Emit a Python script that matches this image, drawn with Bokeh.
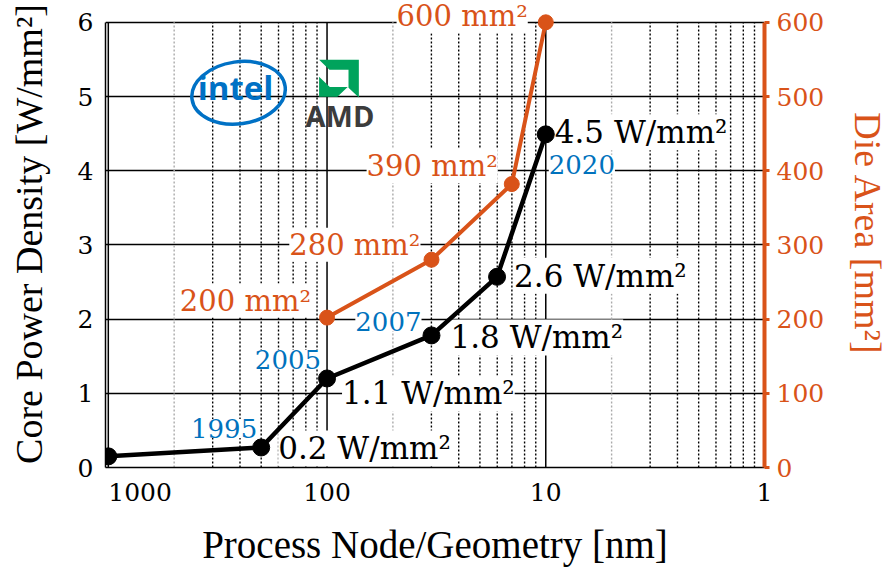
import math
from bokeh.plotting import figure
from bokeh.models import Range1d, LinearAxis, FixedTicker, ColumnDataSource
from bokeh.core.properties import value
from bokeh.embed import file_html
from bokeh.resources import INLINE

# ---------------- data ----------------
node_nm = [1000, 200, 100, 33.3, 16.7, 10]
power_density = [0.15, 0.27, 1.2, 1.78, 2.57, 4.49]
density_labels = ["", "0.2 W/mm²", "1.1 W/mm²", "1.8 W/mm²", "2.6 W/mm²", "4.5 W/mm²"]
year_point = [1, 2, 3, 5]
year_labels = ["1995", "2005", "2007", "2020"]
area_node_nm = [100, 33.3, 14.3, 10]
die_area = [202, 280, 382, 600]
area_labels = ["200 mm²", "280 mm²", "390 mm²", "600 mm²"]
x_ticks = [1000, 100, 10, 1]
x_tick_labels = ["1000", "100", "10", "1"]
left_ticks = [0, 1, 2, 3, 4, 5, 6]
right_ticks = [0, 100, 200, 300, 400, 500, 600]

# ---------------- style ----------------
BLACK = "#000000"
ORANGE = "#D95319"
BLUE = "#0072BD"
INTEL_BLUE = "#0071C5"
AMD_GREEN = "#00A35C"
AMD_GRAY = "#3C3C3C"
SERIF = "DejaVu Serif"
TITLE_FONT = "Liberation Serif"
NBSP = "\u00a0"

X_START, X_END = 1030, 1
Y_TOP = 6.294
FRAME_W, FRAME_H = 663, 471
PX_PER_DECADE = FRAME_W / math.log10(X_START / X_END)
PX_PER_UNIT = FRAME_H / Y_TOP

p = figure(width=892, height=568, x_axis_type="log",
           x_range=Range1d(X_START, X_END), y_range=Range1d(0, Y_TOP),
           output_backend="svg", toolbar_location=None,
           min_border_left=105, min_border_right=124,
           min_border_top=0, min_border_bottom=97)
p.outline_line_color = None
p.background_fill_color = "white"
p.border_fill_color = "white"
p.xgrid.visible = False

# y grid
p.ygrid.ticker = FixedTicker(ticks=left_ticks)
p.ygrid.grid_line_color = BLACK
p.ygrid.grid_line_width = 1.5

# x axis ("1000" label sits to the right of its tick, as in the original)
xa = p.xaxis[0]
xa.ticker = FixedTicker(ticks=x_ticks)
xa.major_label_overrides = {
    t: (NBSP * 8 + lab if t == 1000 else lab) for t, lab in zip(x_ticks, x_tick_labels)}
xa.major_label_text_font = SERIF
xa.major_label_text_font_size = "25px"
xa.major_label_text_color = BLACK
xa.major_label_standoff = 10
xa.major_tick_out = 0
xa.major_tick_in = 0
xa.minor_tick_line_color = None
xa.axis_line_color = BLACK
xa.axis_line_width = 1.5
xa.axis_label = "Process Node/Geometry [nm]"
xa.axis_label_text_font = TITLE_FONT
xa.axis_label_text_font_size = "39px"
xa.axis_label_text_font_style = "normal"
xa.axis_label_text_color = BLACK
xa.axis_label_standoff = 13

# left axis
ya = p.yaxis[0]
ya.ticker = FixedTicker(ticks=left_ticks)
ya.bounds = (0, 6)
ya.major_label_text_font = SERIF
ya.major_label_text_font_size = "25px"
ya.major_label_text_color = BLACK
ya.major_label_standoff = 12
ya.major_tick_out = 0
ya.major_tick_in = 0
ya.minor_tick_line_color = None
ya.axis_line_color = BLACK
ya.axis_line_width = 1.5
ya.axis_label = "Core Power Density [W/mm²]"
ya.axis_label_text_font = TITLE_FONT
ya.axis_label_text_font_size = "38px"
ya.axis_label_text_font_style = "normal"
ya.axis_label_text_color = BLACK
ya.axis_label_standoff = 25

# right axis
p.extra_y_ranges = {"area": Range1d(0, Y_TOP * 100)}
ra = LinearAxis(y_range_name="area", ticker=FixedTicker(ticks=right_ticks), bounds=(0, 600))
ra.axis_line_color = ORANGE
ra.axis_line_width = 4
ra.major_tick_line_color = ORANGE
ra.major_tick_line_width = 3
ra.major_tick_out = 5
ra.major_tick_in = 0
ra.minor_tick_line_color = None
ra.major_label_text_font = SERIF
ra.major_label_text_font_size = "25px"
ra.major_label_text_color = ORANGE
ra.major_label_standoff = 7
ra.axis_label = "Die Area [mm²]"
ra.axis_label_text_font = TITLE_FONT
ra.axis_label_text_font_size = "38px"
ra.axis_label_text_font_style = "normal"
ra.axis_label_text_color = ORANGE
ra.axis_label_standoff = 20
p.add_layout(ra, "right")

# vertical grid lines (major solid, minor dotted), spanning 0..6
major_x = [t for t in x_ticks if X_END < t < X_START]
p.segment(x0=major_x, y0=[0] * len(major_x), x1=major_x, y1=[6] * len(major_x),
          line_color=BLACK, line_width=1.5)
minor_dark, minor_light = [], []
for dec in [1000, 100, 10]:
    for k in range(2, 10):
        v = dec / k
        (minor_light if k == 2 else minor_dark).append(v)
p.segment(x0=minor_dark, y0=[0] * len(minor_dark), x1=minor_dark, y1=[6] * len(minor_dark),
          line_color=BLACK, line_width=1.4, line_dash="2 2")
p.segment(x0=minor_light, y0=[0] * len(minor_light), x1=minor_light, y1=[6] * len(minor_light),
          line_color="#aaaaaa", line_width=1.4, line_dash="2 2")

# ---------------- labels ----------------
dens_idx = [i for i, t in enumerate(density_labels) if t]
dens_src = ColumnDataSource(dict(
    x=[node_nm[i] for i in dens_idx], y=[power_density[i] for i in dens_idx],
    t=[density_labels[i] for i in dens_idx],
    dx=[17, 15, 19, 17, 9], dy=[1, 15, 2, -1, -2]))
p.text(x="x", y="y", text="t", source=dens_src, x_offset="dx", y_offset="dy",
       text_align="left", text_baseline="middle", text_color=BLACK,
       text_font=value(SERIF), text_font_size="31px",
       background_fill_color="white")

area_src = ColumnDataSource(dict(
    x=area_node_nm, y=[a / 100 for a in die_area], t=area_labels,
    dx=[-16, -11, -14, -18], dy=[-17, -15, -18, -6]))
p.text(x="x", y="y", text="t", source=area_src, x_offset="dx", y_offset="dy",
       text_align="right", text_baseline="middle", text_color=ORANGE,
       text_font=value(SERIF), text_font_size="29px",
       background_fill_color="white")

yr_left = [j for j in range(len(year_labels)) if j < 3]
yr_src_r = ColumnDataSource(dict(
    x=[node_nm[year_point[j]] for j in yr_left], y=[power_density[year_point[j]] for j in yr_left],
    t=[year_labels[j] for j in yr_left], dx=[-4, -6, -10], dy=[-19, -19, -14]))
p.text(x="x", y="y", text="t", source=yr_src_r, x_offset="dx", y_offset="dy",
       text_align="right", text_baseline="middle", text_color=BLUE,
       text_font=value(SERIF), text_font_size="26px",
       background_fill_color="white")
yr_src_l = ColumnDataSource(dict(
    x=[node_nm[year_point[3]]], y=[power_density[year_point[3]]], t=[year_labels[3]],
    dx=[3], dy=[30]))
p.text(x="x", y="y", text="t", source=yr_src_l, x_offset="dx", y_offset="dy",
       text_align="left", text_baseline="middle", text_color=BLUE,
       text_font=value(SERIF), text_font_size="26px",
       background_fill_color="white")

# ---------------- series ----------------
p.line(area_node_nm, die_area, y_range_name="area", line_color=ORANGE, line_width=4)
p.scatter(area_node_nm, die_area, y_range_name="area", size=15, color=ORANGE)
p.line(node_nm, power_density, line_color=BLACK, line_width=4.5)
p.scatter(node_nm, power_density, size=17, color=BLACK)

# ---------------- logos ----------------
def at(cx, cy, dx_px, dy_px):
    """point dx_px right / dy_px up of the data anchor (cx, cy)"""
    return cx * 10 ** (-dx_px / PX_PER_DECADE), cy + dy_px / PX_PER_UNIT

# Intel
p.ellipse(x=[253.8], y=[5.05], width=94, height=62, width_units="screen",
          height_units="screen", angle=0.14, fill_color=None,
          line_color=INTEL_BLUE, line_width=3.5)
p.text(x=[261.8], y=[5.12], text=["intel"], text_align="center", text_baseline="middle",
       text_color=INTEL_BLUE, text_font=value("Open Sans"), text_font_size="33px",
       text_font_style="bold")

# AMD
amd_cx, amd_cy = 88.2, 5.24
amd_w, amd_h = 40, 38
outer = [(0, 1), (1, 1), (1, 0), (0.74, 0.26), (0.74, 0.74), (0.26, 0.74)]
inner = [(0, 0.02), (0, 0.55), (0.27, 0.28), (0.72, 0.28), (0.46, 0.02)]
xs, ys = [], []
for shape in (outer, inner):
    pts = [at(amd_cx, amd_cy, (u - 0.5) * amd_w, (v - 0.5) * amd_h) for u, v in shape]
    xs.append([q[0] for q in pts])
    ys.append([q[1] for q in pts])
p.patches(xs, ys, fill_color=AMD_GREEN, line_color=None)
p.text(x=[87.3], y=[4.74], text=["AMD"], text_align="center", text_baseline="middle",
       text_color=AMD_GRAY, text_font=value("Open Sans"), text_font_size="29px",
       text_font_style="bold")

open("out.html", "w").write(file_html(p, INLINE))
